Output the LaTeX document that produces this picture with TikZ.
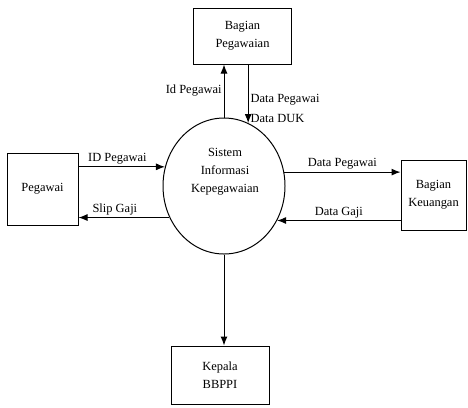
\documentclass[tikz,border=0pt]{standalone}
\usepackage{fontspec}
\setmainfont{Liberation Serif}
\usepackage{tikz}
\usetikzlibrary{arrows.meta,shapes,positioning}
\tikzset{
    basic/.style  = {draw, line width=1pt, rectangle, align=center, font=\fontsize{12.5}{18}\selectfont},
    entitas/.style = {basic, inner sep=0pt},
    proses/.style = {draw, line width=1pt, ellipse, inner sep=0pt, minimum width=122bp, minimum height=136bp},
    alir/.style   = {->, line width=1pt, draw},
    ket/.style    = {font=\fontsize{12.5}{14}\selectfont, inner sep=2pt}
}

\begin{document}
\begin{tikzpicture}[x=1bp,y=-1bp,>={Latex[length=9bp,width=7bp]}]
	\useasboundingbox (0,0) rectangle (468,407);
	% entitas luar
	\node (bp) [entitas, minimum width=98bp, minimum height=56bp] at (242.5,36) {Bagian\\Pegawaian};
	\node (pg) [entitas, minimum width=71bp, minimum height=72bp] at (42.5,189) {Pegawai};
	\node (bk) [entitas, minimum width=65bp, minimum height=70bp] at (433.5,195) {Bagian\\Keuangan};
	\node (kp) [entitas, minimum width=98bp, minimum height=58bp] at (220,375) {Kepala\\BBPPI};
	% proses
	\node (sis) [proses] at (224,186) {};
	\node (sistxt) [basic, draw=none] at (225,172) {Sistem\\Informasi\\Kepegawaian};
	% aliran data
	\draw[alir] (sis.north) -- node[ket, left] {Id Pegawai} (bp.south -| sis.north);
	\draw[alir] (bp.south -| sis.69) -- node[ket, right, align=left, pos=0.75] {Data Pegawai\\[6pt]Data DUK} (sis.69);
	\draw[alir] (pg.east |- sis.162) -- node[ket, above, pos=0.45] {ID Pegawai} (sis.162);
	\draw[alir] (sis.210) -- node[ket, above, pos=0.6] {Slip Gaji} (pg.east |- sis.210);
	\draw[alir] (sis.13) -- node[ket, above, pos=0.5] {Data Pegawai} (bk.west |- sis.13);
	\draw[alir] (bk.west |- sis.327) -- node[ket, above, pos=0.5] {Data Gaji} (sis.327);
	\draw[alir] (sis.south) -- (kp.north -| sis.south);
\end{tikzpicture}
\end{document}
